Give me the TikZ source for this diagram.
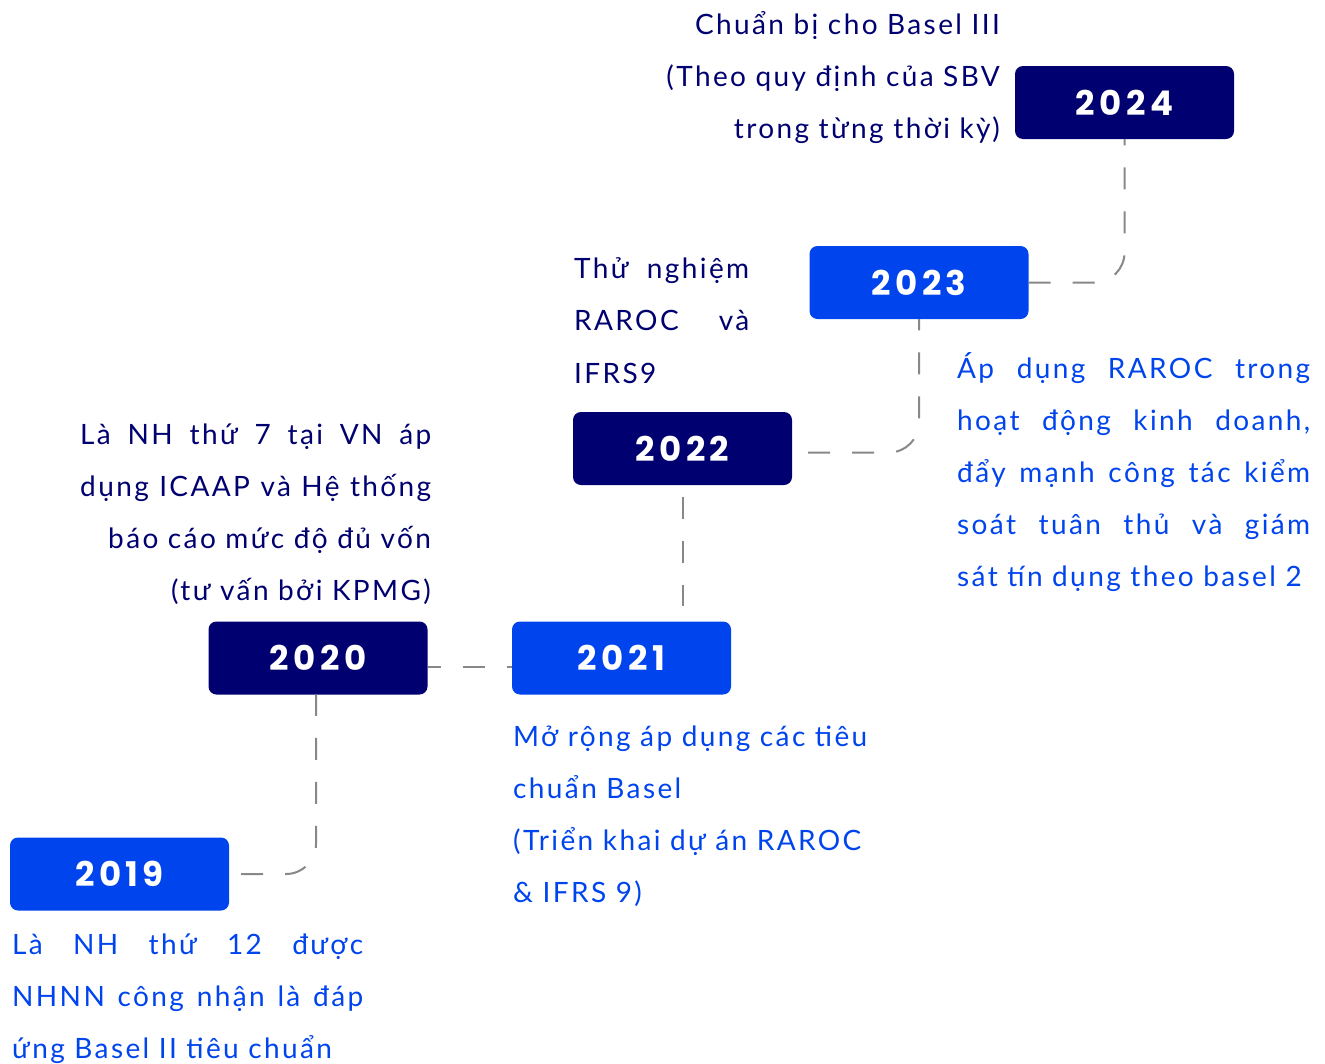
\documentclass[tikz,border=0pt]{standalone}
\usepackage{fontspec}
\setmainfont{Lato}[LetterSpace=8.5]
\newfontfamily\yearfont{Poppins}[LetterSpace=13]
\definecolor{navy}{RGB}{0,0,112}
\definecolor{vblue}{RGB}{0,68,238}
\definecolor{lgray}{RGB}{136,136,136}
\begin{document}
\begin{tikzpicture}[x=1pt,y=-1pt,
  yearbox/.style={minimum width=219pt,minimum height=73pt,rounded corners=8pt,inner sep=0pt,
    text=white,font=\yearfont\bfseries\fontsize{34}{34}\selectfont},
  darkbox/.style={yearbox,fill=navy},
  bluebox/.style={yearbox,fill=vblue},
  conn/.style={draw=lgray,line width=2pt,dash pattern=on 22pt off 22pt,rounded corners=30pt},
  ln/.style={inner sep=0pt,font=\fontsize{28}{28}\selectfont},
  lnw/.style={ln,anchor=base west},
  lne/.style={ln,anchor=base east}]
\useasboundingbox (0,0) rectangle (1325,1063);

% year boxes
\node[darkbox] (y2024) at (1124.5,102.5) {2024};
\node[bluebox] (y2023) at (919,282.5) {2023};
\node[darkbox] (y2022) at (682.5,448.5) {2022};
\node[bluebox] (y2021) at (621.5,658) {2021};
\node[darkbox] (y2020) at (318,658) {2020};
\node[bluebox] (y2019) at (119.5,874) {2019};

% connectors
\coordinate (c19) at ([xshift=12pt]y2019.east);
\coordinate (c19b) at ([xshift=-2pt]y2020.south);
\draw[conn] (c19) -| (c19b);
\coordinate (c20a) at ([yshift=-9pt]y2020.east);
\coordinate (c20b) at ([yshift=-9pt]y2021.west);
\draw[conn,dash phase=9pt] (c20a) -- (c20b);
\coordinate (c21a) at ([yshift=-12pt]y2022.south);
\coordinate (c21b) at ([yshift=15pt]y2022.south |- y2021.north);
\draw[conn] (c21a) -- (c21b);
\coordinate (c22) at ([xshift=16pt,yshift=-4pt]y2022.east);
\draw[conn] (c22) -| (y2023.south);
\draw[conn] (y2023.east) -| (y2024.south);

% 2024 text
\begin{scope}[text=navy]
\node[lne] (a1) at (1000,34) {Chuẩn bị cho Basel III};
\node[lne] (a2) at (1000,86) {(Theo quy định của SBV};
\node[lne] (a3) at (1000,138) {trong từng thời kỳ)};
% 2022 text
\node[lnw] (b1) at (574,278) {\makebox[175pt][s]{Thử nghiệm}};
\node[lnw] (b2) at (574,330) {\makebox[175pt][s]{RAROC và}};
\node[lnw] (b3) at (574,383) {IFRS9};
% 2020 text
\node[lnw] (d1) at (80,444) {\makebox[351pt][s]{Là NH thứ 7 tại VN áp}};
\node[lnw] (d2) at (80,496) {\makebox[351pt][s]{dụng ICAAP và Hệ thống}};
\node[lne] (d3) at (431,548) {báo cáo mức độ đủ vốn};
\node[lne] (d4) at (431,600) {(tư vấn bởi KPMG)};
\end{scope}

\begin{scope}[text=vblue]
% 2023 text
\node[lnw] (e1) at (957,378) {\makebox[353pt][s]{Áp dụng RAROC trong}};
\node[lnw] (e2) at (957,430) {\makebox[353pt][s]{hoạt động kinh doanh,}};
\node[lnw] (e3) at (957,482) {\makebox[353pt][s]{đẩy mạnh công tác kiểm}};
\node[lnw] (e4) at (957,534) {\makebox[353pt][s]{soát tuân thủ và giám}};
\node[lnw] (e5) at (957,586) {sát tín dụng theo basel 2};
% 2021 text
\node[lnw] (f1) at (513,746) {Mở rộng áp dụng các tiêu};
\node[lnw] (f2) at (513,798) {chuẩn Basel};
\node[lnw] (f3) at (513,850) {(Triển khai dự án RAROC};
\node[lnw] (f4) at (513,902) {\& IFRS 9)};
% 2019 text
\node[lnw] (g1) at (12,954) {\makebox[351pt][s]{Là NH thứ 12 được}};
\node[lnw] (g2) at (12,1006) {\makebox[351pt][s]{NHNN công nhận là đáp}};
\node[lnw] (g3) at (12,1058) {ứng Basel II tiêu chuẩn};
\end{scope}
\end{tikzpicture}
\end{document}
